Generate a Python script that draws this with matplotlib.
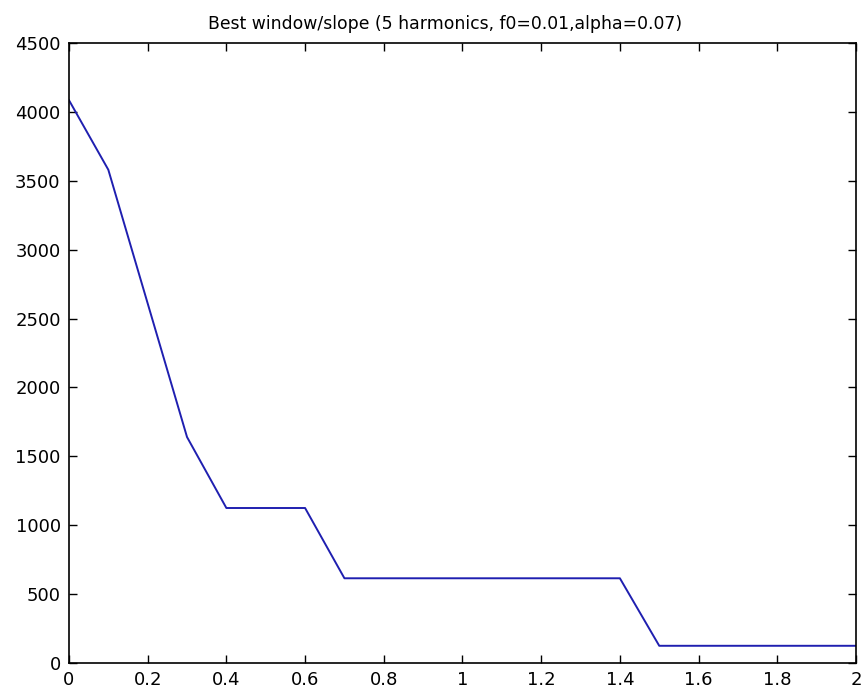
import matplotlib
matplotlib.use('Agg')
import matplotlib.pyplot as plt
import numpy as np

# slope values sampled every 0.1
slope = np.round(np.arange(0, 2.01, 0.1), 1)
best_window = [4085, 3580, 2610, 1640, 1125, 1125, 1125, 615, 615, 615, 615,
               615, 615, 615, 615, 125, 125, 125, 125, 125, 125]

plt.rcParams['font.family'] = ['DejaVu Sans']

fig = plt.figure(figsize=(8.61, 6.91), dpi=100)
ax = fig.add_axes([0.0801, 0.0405, 0.9141, 0.8973])

ax.plot(slope, best_window, color='#1f1fb0', linewidth=1.4)

ax.set_xlim(0, 2)
ax.set_ylim(0, 4500)
ax.set_xticks(np.round(np.arange(0, 2.01, 0.2), 1))
ax.set_xticklabels(['0', '0.2', '0.4', '0.6', '0.8', '1', '1.2', '1.4', '1.6', '1.8', '2'])
ax.set_yticks(range(0, 4501, 500))
ax.tick_params(direction='in', length=6, width=1, top=True, right=True,
               labelsize=13)
ax.tick_params(axis='x', pad=6)
ax.tick_params(axis='y', pad=6)
for sp in ax.spines.values():
    sp.set_linewidth(1.2)

ax.set_title('Best window/slope (5 harmonics, f0=0.01,alpha=0.07)', fontsize=12.4,
             x=0.478, pad=10)

fig.savefig('out.png', dpi=100)
